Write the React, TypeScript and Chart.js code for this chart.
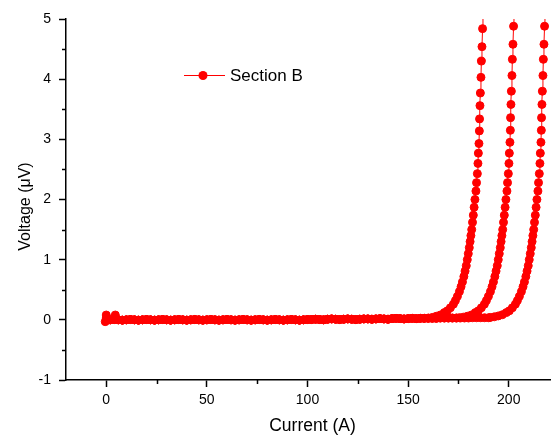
import { useEffect, useRef } from 'react';
import { Chart, registerables } from 'chart.js';

Chart.register(...registerables);

const seriesLabel = 'Section B';
const xTitle = 'Current (A)';
const yTitle = 'Voltage (\u03BCV)';

const xMajorTicks = [0, 50, 100, 150, 200];
const xMinorTicks = [25, 75, 125, 175];
const yMajorTicks = [-1, 0, 1, 2, 3, 4, 5];
const yMinorTicks = [-0.5, 0.5, 1.5, 2.5, 3.5, 4.5];

// scattered readings at the very start
const startCurrent = [-0.5, 0, 0, 4.5];
const startVoltage = [-0.03, 0.08, 0.03, 0.08];

// common flat part of all three sweeps
const flatCurrent = [
  2, 4, 6, 8, 10, 12, 14, 16, 18, 20, 22, 24, 26, 28, 30, 32, 34, 36, 38, 40,
  42, 44, 46, 48, 50, 52, 54, 56, 58, 60, 62, 64, 66, 68, 70, 72, 74, 76, 78, 80,
  82, 84, 86, 88, 90, 92, 94, 96, 98, 100, 102, 104, 106, 108, 110, 112, 114, 116, 118, 120,
  122, 124, 126, 128, 130, 132, 134, 136, 138, 140, 142, 144, 146, 148, 150, 152, 154, 156, 158,
];
const flatVoltage = [
  0, 0.005, 0, -0.005, 0, 0.005, 0, -0.005, 0, 0.005, 0, -0.005, 0, 0.005, 0, -0.005, 0, 0.005, 0, -0.005,
  0, 0.005, 0, -0.005, 0, 0.005, 0, -0.005, 0, 0.005, 0, -0.005, 0, 0.005, 0, -0.005, 0, 0.005, 0, -0.005,
  0, 0.005, 0, -0.005, 0, 0.005, 0, -0.005, 0, 0.005, 0.005, 0.01, 0.005, 0, 0.01, 0.015, 0.01, 0.005, 0.01, 0.015,
  0.01, 0.005, 0.01, 0.015, 0.015, 0.01, 0.015, 0.02, 0.015, 0.01, 0.02, 0.025, 0.02, 0.015, 0.02, 0.025, 0.02, 0.025, 0.025,
];

// sweep 1 transition
const riseCurrent1 = [
  160, 162, 164, 166, 168, 169.5, 171, 172.5, 173.5, 174.5, 175.5, 176.3, 177, 177.7, 178.3, 178.9,
  179.4, 179.9, 180.4, 180.8, 181.2, 181.6, 182, 182.4, 182.8, 183.2, 183.7, 184, 184.4, 184.7,
  184.9, 185.2, 185.4, 185.5, 185.7, 185.9, 186.2, 186.4, 186.7, 187, 187.2,
];
const riseVoltage1 = [
  0.03, 0.04, 0.06, 0.08, 0.12, 0.15, 0.2, 0.26, 0.32, 0.39, 0.47, 0.55, 0.63, 0.72, 0.81, 0.9,
  1.0, 1.1, 1.2, 1.3, 1.4, 1.5, 1.62, 1.74, 1.87, 2.0, 2.14, 2.28, 2.43, 2.6,
  2.77, 2.93, 3.14, 3.34, 3.56, 3.77, 4.03, 4.3, 4.54, 4.84, 5.4,
];

// sweep 2
const preCurrent2 = [160, 162, 164, 166, 168, 170, 172, 174];
const preVoltage2 = [0.025, 0.025, 0.025, 0.03, 0.03, 0.03, 0.03, 0.03];
const riseCurrent2 = [
  175.4, 177.4, 179.4, 181.4, 183.4, 184.9, 186.4, 187.9, 188.9, 189.9, 190.9, 191.7, 192.4, 193.1, 193.7, 194.3,
  194.8, 195.3, 195.8, 196.2, 196.6, 197.0, 197.4, 197.8, 198.2, 198.6, 199.1, 199.4, 199.8, 200.1,
  200.3, 200.6, 200.8, 200.9, 201.1, 201.3, 201.6, 201.8, 202.1, 202.4, 202.6,
];
const riseVoltage2 = [
  0.035, 0.045, 0.06, 0.08, 0.12, 0.15, 0.2, 0.26, 0.32, 0.39, 0.47, 0.55, 0.63, 0.72, 0.81, 0.9,
  1.0, 1.1, 1.2, 1.3, 1.4, 1.5, 1.62, 1.74, 1.87, 2.0, 2.14, 2.28, 2.43, 2.6,
  2.77, 2.95, 3.15, 3.36, 3.58, 3.8, 4.06, 4.33, 4.58, 4.88, 5.4,
];

// sweep 3
const preCurrent3 = [160, 162, 164, 166, 168, 170, 172, 174, 176, 178, 180, 182, 184, 186, 188, 190];
const preVoltage3 = [0.025, 0.025, 0.025, 0.03, 0.03, 0.03, 0.03, 0.03, 0.03, 0.03, 0.03, 0.035, 0.035, 0.035, 0.035, 0.035];
const riseCurrent3 = [
  190.8, 192.8, 194.8, 196.8, 198.8, 200.3, 201.8, 203.3, 204.3, 205.3, 206.3, 207.1, 207.8, 208.5, 209.1, 209.7,
  210.2, 210.7, 211.2, 211.6, 212.0, 212.4, 212.8, 213.2, 213.6, 214.0, 214.5, 214.8, 215.2, 215.5,
  215.7, 216.0, 216.2, 216.3, 216.5, 216.7, 217.0, 217.2, 217.5, 217.8, 218.0,
];
const riseVoltage3 = [
  0.04, 0.05, 0.065, 0.085, 0.12, 0.15, 0.2, 0.26, 0.32, 0.39, 0.47, 0.55, 0.63, 0.72, 0.81, 0.9,
  1.0, 1.1, 1.2, 1.3, 1.4, 1.5, 1.62, 1.74, 1.87, 2.0, 2.14, 2.28, 2.43, 2.6,
  2.77, 2.95, 3.15, 3.36, 3.58, 3.8, 4.06, 4.33, 4.58, 4.88, 5.4,
];

const RED = '#ff0000';
const FONT = '"Liberation Sans", Arial, Helvetica, sans-serif';

function toPoints(xs: number[][], ys: number[][]) {
  const pts: { x: number; y: number }[] = [];
  xs.forEach((arr, k) => arr.forEach((x, i) => pts.push({ x, y: ys[k][i] })));
  return pts;
}

const decorPlugin = {
  id: 'decor',
  afterDraw(chart: any) {
    const ctx: CanvasRenderingContext2D = chart.ctx;
    const area = chart.chartArea;
    const xs = chart.scales.x;
    const ys = chart.scales.y;
    ctx.save();
    // minor ticks
    ctx.strokeStyle = '#000';
    ctx.lineWidth = 1.5;
    ctx.beginPath();
    for (const v of xMinorTicks) {
      const px = Math.round(xs.getPixelForValue(v)) + 0.5;
      ctx.moveTo(px, area.bottom);
      ctx.lineTo(px, area.bottom + 4);
    }
    for (const v of yMinorTicks) {
      const py = Math.round(ys.getPixelForValue(v)) + 0.5;
      ctx.moveTo(area.left, py);
      ctx.lineTo(area.left - 4, py);
    }
    ctx.stroke();

    // axis titles
    ctx.fillStyle = '#000';
    ctx.font = `17.5px ${FONT}`;
    ctx.textAlign = 'center';
    ctx.textBaseline = 'alphabetic';
    ctx.fillText(xTitle, 312.5, 431);
    ctx.font = `16px ${FONT}`;
    ctx.save();
    ctx.translate(30, 206.5);
    ctx.rotate(-Math.PI / 2);
    ctx.fillText(yTitle, 0, 0);
    ctx.restore();

    // legend
    const lx = area.left + 118;
    const ly = area.top + 56.5;
    ctx.strokeStyle = RED;
    ctx.lineWidth = 1;
    ctx.beginPath();
    ctx.moveTo(lx, ly);
    ctx.lineTo(lx + 41, ly);
    ctx.stroke();
    ctx.fillStyle = RED;
    ctx.beginPath();
    ctx.arc(lx + 19, ly, 4.5, 0, Math.PI * 2);
    ctx.fill();
    ctx.fillStyle = '#000';
    ctx.textAlign = 'left';
    ctx.textBaseline = 'middle';
    ctx.font = `17px ${FONT}`;
    ctx.fillText(chart.data.datasets[0].label, lx + 46, ly + 1);
    ctx.restore();
  },
};

export default function App() {
  const ref = useRef<HTMLCanvasElement>(null);

  useEffect(() => {
    if (!ref.current) return;
    const common = {
      borderColor: RED,
      backgroundColor: RED,
      borderWidth: 1,
      pointRadius: 4,
      pointBorderWidth: 1,
      pointBackgroundColor: RED,
      pointBorderColor: RED,
      showLine: true,
      tension: 0,
    };
    const chart = new Chart(ref.current, {
      type: 'scatter',
      data: {
        datasets: [
          {
            label: seriesLabel,
            data: toPoints([startCurrent, flatCurrent, riseCurrent1], [startVoltage, flatVoltage, riseVoltage1]),
            ...common,
          },
          {
            label: seriesLabel,
            data: toPoints([flatCurrent, preCurrent2, riseCurrent2], [flatVoltage, preVoltage2, riseVoltage2]),
            ...common,
          },
          {
            label: seriesLabel,
            data: toPoints([flatCurrent, preCurrent3, riseCurrent3], [flatVoltage, preVoltage3, riseVoltage3]),
            ...common,
          },
        ],
      },
      options: {
        responsive: false,
        animation: false,
        devicePixelRatio: 1,
        layout: { autoPadding: false, padding: { top: 19, right: 0, left: 0, bottom: 0 } },
        plugins: { legend: { display: false }, tooltip: { enabled: false } },
        scales: {
          x: {
            type: 'linear',
            min: -20,
            max: 221,
            afterBuildTicks: (s: any) => {
              s.ticks = xMajorTicks.map((v) => ({ value: v }));
            },
            afterFit: (s: any) => {
              s.height = 56;
              s.paddingLeft = 0;
              s.paddingRight = 0;
            },
            grid: { drawOnChartArea: false, drawTicks: true, tickLength: 7, tickWidth: 1.5, tickColor: '#000' },
            border: { display: true, color: '#000', width: 1.5 },
            ticks: { color: '#000', font: { family: FONT, size: 14 }, padding: 5, maxRotation: 0 },
            title: { display: false },
          },
          y: {
            type: 'linear',
            min: -1,
            max: 5,
            afterBuildTicks: (s: any) => {
              s.ticks = yMajorTicks.map((v) => ({ value: v }));
            },
            afterFit: (s: any) => {
              s.width = 66;
              s.paddingTop = 0;
              s.paddingBottom = 0;
            },
            grid: { drawOnChartArea: false, drawTicks: true, tickLength: 7, tickWidth: 1.5, tickColor: '#000' },
            border: { display: true, color: '#000', width: 1.5 },
            ticks: { color: '#000', font: { family: FONT, size: 14 }, padding: 8 },
            title: { display: false },
          },
        },
      },
      plugins: [decorPlugin],
    } as any);
    return () => chart.destroy();
  }, []);

  return (
    <div style={{ position: 'absolute', left: 0, top: 0, width: 551, height: 436, background: '#fff' }}>
      <canvas ref={ref} width={551} height={436} style={{ display: 'block' }} />
    </div>
  );
}
